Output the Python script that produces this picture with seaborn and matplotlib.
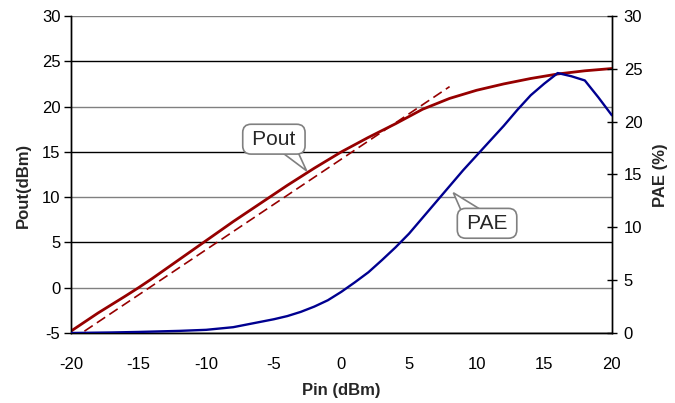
import numpy as np
import pandas as pd
import matplotlib
matplotlib.use("Agg")
import matplotlib.pyplot as plt
from matplotlib.patches import Polygon
import seaborn as sns

# Data
pin = [-20, -18, -16, -15, -14, -12, -10, -8, -6, -4, -2, 0, 2, 4, 6, 8, 10, 12, 14, 16, 18, 20]
pout = [-4.8, -2.8, -0.95, 0.0, 1.0, 3.1, 5.2, 7.3, 9.3, 11.3, 13.2, 15.0, 16.6, 18.1, 19.7, 20.9,
        21.8, 22.5, 23.1, 23.6, 23.95, 24.2]

pin_lin = [-19, 8]
pout_lin = [-4.8, 22.2]

pin_pae = [-20, -17, -15, -12, -10, -8, -7, -6, -5, -4, -3, -2, -1, 0, 1, 2, 3, 4, 5, 6, 7, 8, 9,
           10, 11, 12, 13, 14, 15, 16, 17, 18, 19, 20]
pae = [0.0, 0.05, 0.1, 0.2, 0.3, 0.55, 0.8, 1.05, 1.3, 1.6, 2.0, 2.5, 3.1, 3.9, 4.8, 5.75, 6.9,
       8.1, 9.4, 10.9, 12.4, 13.9, 15.4, 16.8, 18.2, 19.6, 21.1, 22.5, 23.6, 24.6, 24.3, 23.9,
       22.3, 20.6]

df_pout = pd.DataFrame({"Pin": pin, "Pout": pout})
df_lin = pd.DataFrame({"Pin": pin_lin, "Pout": pout_lin})
df_pae = pd.DataFrame({"Pin": pin_pae, "PAE": pae})

sns.set_style("white")
plt.rcParams["font.family"] = ["Liberation Sans", "DejaVu Sans"]
plt.rcParams["axes.unicode_minus"] = False

red = "#960000"
blue = "#000090"

fig = plt.figure(figsize=(6.75, 4.03), dpi=100)
ax = fig.add_axes([0.105, 0.1737, 0.8015, 0.7866])
ax2 = ax.twinx()

sns.lineplot(data=df_pout, x="Pin", y="Pout", ax=ax, color=red, lw=2.0, zorder=4)
sns.lineplot(data=df_lin, x="Pin", y="Pout", ax=ax, color=red, lw=1.2,
             linestyle=(0, (6, 3)), zorder=4)
sns.lineplot(data=df_pae, x="Pin", y="PAE", ax=ax2, color=blue, lw=1.7, zorder=4)

ax.set_xlim(-20, 20)
ax.set_ylim(-5, 30)
ax2.set_ylim(0, 30)
ax.set_xticks(range(-20, 21, 5))
ax.set_yticks(range(-5, 31, 5))
ax2.set_yticks(range(0, 31, 5))

# horizontal gridlines, alternating grey/black like the reference
ax.grid(axis="y", lw=1.0)
for i, gl in enumerate(ax.get_ygridlines()):
    gl.set_color("#808080" if i % 2 == 1 else "black")

for a in (ax, ax2):
    a.spines["top"].set_visible(False)
    for s in ("left", "right", "bottom"):
        a.spines[s].set_color("black")
        a.spines[s].set_linewidth(1.0)

ax.tick_params(axis="x", direction="out", length=5, width=1, pad=12, labelsize=12, colors="black")
ax.tick_params(axis="y", direction="out", length=5, width=1, pad=2.5, labelsize=12, colors="black",
               left=True)
ax2.tick_params(axis="y", direction="inout", length=7, width=1, pad=5, labelsize=12, colors="black",
                right=True)

ax.set_xlabel("Pin (dBm)", fontsize=12, fontweight="bold")
ax.set_ylabel("Pout(dBm)", fontsize=12, fontweight="bold")
ax2.set_ylabel("PAE (%)", fontsize=12, fontweight="bold")
ax.xaxis.set_label_coords(0.5004, -0.158)
ax.yaxis.set_label_coords(-0.0745, 0.467)
ax2.yaxis.set_label_coords(1.0758, 0.498)

# callouts: rounded box + tail
box = dict(boxstyle="round,pad=0.26,rounding_size=0.4", fc="white", ec="#808080", lw=1.2)
ax.add_patch(Polygon([(-4.62, 15.2), (-3.28, 15.2), (-2.57, 12.9)], closed=True,
                     fc="white", ec="#808080", lw=1.2, zorder=5))
ax.text(-4.99, 16.4, "\u2009Pout\u2009", fontsize=15, ha="center", va="center", bbox=box, zorder=6)

ax2.add_patch(Polygon([(8.85, 11.6), (10.4, 11.6), (8.28, 13.27)], closed=True,
                      fc="white", ec="#808080", lw=1.2, zorder=5))
ax2.text(10.77, 10.38, "\u2009PAE\u2009", fontsize=15, ha="center", va="center", bbox=box, zorder=6)

fig.savefig("out.png", dpi=100)
